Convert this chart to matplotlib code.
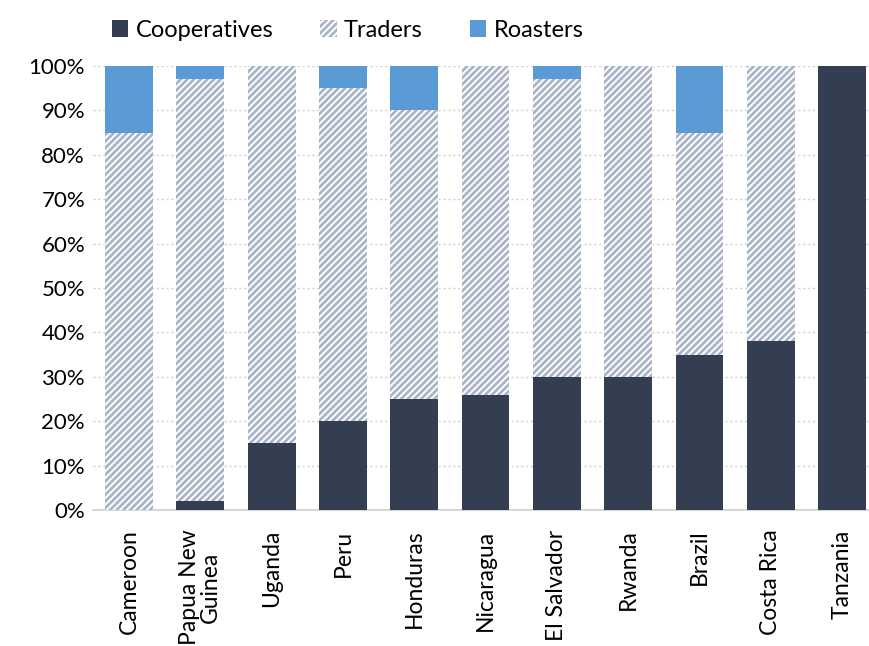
import numpy as np
import matplotlib.pyplot as plt
from matplotlib.patches import Patch

plt.rcParams['font.family'] = ['Lato', 'DejaVu Sans']
plt.rcParams['hatch.linewidth'] = 2.0

# ---- data (percent) ----
countries = ["Cameroon", "Papua New\nGuinea", "Uganda", "Peru", "Honduras", "Nicaragua",
             "El Salvador", "Rwanda", "Brazil", "Costa Rica", "Tanzania"]
cooperatives = [0, 2, 15, 20, 25, 26, 30, 30, 35, 38, 100]
roasters = [15, 3, 0, 5, 10, 0, 3, 0, 15, 0, 0]
traders = [100 - c - r for c, r in zip(cooperatives, roasters)]

dark = '#333F50'
blue = '#5B9BD5'
hatch_col = '#AAB4C8'

fig = plt.figure(figsize=(8.69, 6.46), dpi=100)
ax = fig.add_axes([0.1075, 0.2105, 0.9025, 0.6873])

x = np.arange(len(countries))
w = 0.67
ax.bar(x, cooperatives, w, color=dark, zorder=3)
ax.bar(x, traders, w, bottom=cooperatives, color='white', edgecolor=hatch_col,
       hatch='/////', linewidth=0, zorder=3)
ax.bar(x, roasters, w, bottom=np.array(cooperatives) + np.array(traders), color=blue, zorder=3)

ax.set_xlim(-0.5, len(countries) - 0.5)
ax.set_ylim(0, 100)
ax.set_yticks(np.arange(0, 101, 10))
ax.set_yticklabels([f"{v}%" for v in range(0, 101, 10)], fontsize=16)
ax.set_xticks(x)
ax.set_xticklabels(countries, rotation=90, fontsize=16.5, ha='center', va='top',
                   multialignment='center', linespacing=1.0)
ax.tick_params(axis='both', length=0)
ax.tick_params(axis='x', pad=14)
ax.tick_params(axis='y', pad=6)

ax.grid(axis='y', linestyle=(0, (1.5, 2)), color='#D0D0D0', linewidth=1, zorder=0)
for s in ['top', 'right', 'left']:
    ax.spines[s].set_visible(False)
ax.spines['bottom'].set_color('#D0D0D0')
ax.spines['bottom'].set_linewidth(1.2)

handles = [Patch(facecolor=dark, label='Cooperatives'),
           Patch(facecolor='white', edgecolor=hatch_col, hatch='/////', linewidth=0, label='Traders'),
           Patch(facecolor=blue, label='Roasters')]
fig.legend(handles=handles, loc='center', bbox_to_anchor=(0.40, 0.953), ncol=3, frameon=False,
           fontsize=17, handlelength=0.7, handleheight=0.7, handletextpad=0.3, columnspacing=2.0)

fig.savefig('out.png', dpi=100)
